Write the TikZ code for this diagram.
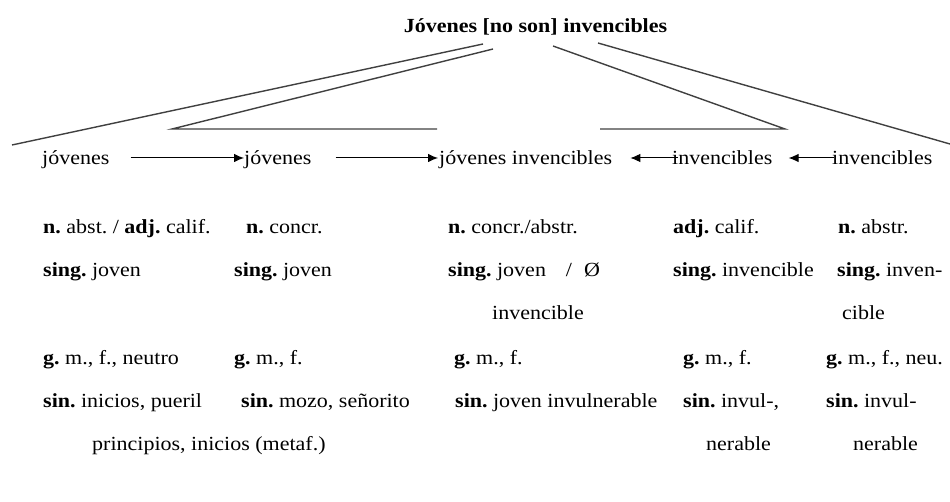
\documentclass[tikz,border=0pt]{standalone}
\usepackage{fontspec}
\setmainfont[FakeStretch=1.1]{Liberation Serif}
\usetikzlibrary{arrows.meta}
\newcommand\diagfont{\fontsize{20}{22}\selectfont\frenchspacing}

\begin{document}
\begin{tikzpicture}[x=1pt,y=-1pt,
        nodes={inner sep=0pt,anchor=base west,font=\diagfont},
        tree/.style={draw=black!75,line width=1.4pt},
        arr/.style={-{Latex[length=10pt,width=8.5pt]},line width=1pt}]
        \useasboundingbox (0,0) rectangle (950,502);
        \node[anchor=base,font=\diagfont\bfseries] (title) at (535.5,33) {Jóvenes [no son] invencibles};
        \coordinate (la) at (483,44);  \coordinate (lb) at (493,49);
        \coordinate (rc) at (553,46);  \coordinate (rd) at (598,43);
        \coordinate (ea) at (12,145);  \coordinate (kb) at (172,129);  \coordinate (eb) at (437,129);
        \coordinate (kc) at (785,129); \coordinate (ec) at (600,129);  \coordinate (ed) at (950,144);
        \draw[tree] (la) -- (ea);
        \draw[tree] (lb) -- (kb) -- (eb);
        \draw[tree] (rc) -- (kc) -- (ec);
        \draw[tree] (rd) -- (ed);
        \node (w1) at (42,165) {jóvenes};
        \node (w2) at (244,165) {jóvenes};
        \node (w3) at (439,165) {jóvenes invencibles};
        \node (w4) at (672,165) {invencibles};
        \node (w5) at (832,165) {invencibles};
        \draw[arr] ([shift={(21pt,7pt)}]w1.base east) -- ([yshift=7pt]w2.base west);
        \draw[arr] ([shift={(24pt,7pt)}]w2.base east) -- ([shift={(-1pt,7pt)}]w3.base west);
        \draw[arr] ([shift={(6pt,7pt)}]w4.base west) -- ([shift={(18pt,7pt)}]w3.base east);
        \draw[arr] ([shift={(2pt,7pt)}]w5.base west) -- ([shift={(16pt,7pt)}]w4.base east);
        \node (a1) at (43,234) {\textbf{n.} abst. / \textbf{adj.} calif.};
        \node (a2) at (43,277) {\textbf{sing.} joven};
        \node (a4) at (43,365) {\textbf{g.} m., f., neutro};
        \node (a5) at (43,407) {\textbf{sin.} inicios, pueril};
        \node (a6) at (92,450) {principios, inicios (metaf.)};
        \node (b1) at (246,234) {\textbf{n.} concr.};
        \node (b2) at (234,277) {\textbf{sing.} joven};
        \node (b4) at (234,365) {\textbf{g.} m., f.};
        \node (b5) at (241,407) {\textbf{sin.} mozo, señorito};
        \node (c1) at (448,234) {\textbf{n.} concr./abstr.};
        \node (c2) at (448,277) {\textbf{sing.} joven\hspace{20pt}/\hspace{12pt}Ø};
        \node (c3) at (492,320) {invencible};
        \node (c4) at (454,365) {\textbf{g.} m., f.};
        \node (c5) at (455,407) {\textbf{sin.} joven invulnerable};
        \node (d1) at (673,234) {\textbf{adj.} calif.};
        \node (d2) at (673,277) {\textbf{sing.} invencible};
        \node (d4) at (683,365) {\textbf{g.} m., f.};
        \node (d5) at (683,407) {\textbf{sin.} invul-,};
        \node (d6) at (706,450) {nerable};
        \node (e1) at (838,234) {\textbf{n.} abstr.};
        \node (e2) at (837,277) {\textbf{sing.} inven-};
        \node (e3) at (842,320) {cible};
        \node (e4) at (826,365) {\textbf{g.} m., f., neu.};
        \node (e5) at (826,407) {\textbf{sin.} invul-};
        \node (e6) at (853,450) {nerable};
\end{tikzpicture}
\end{document}
